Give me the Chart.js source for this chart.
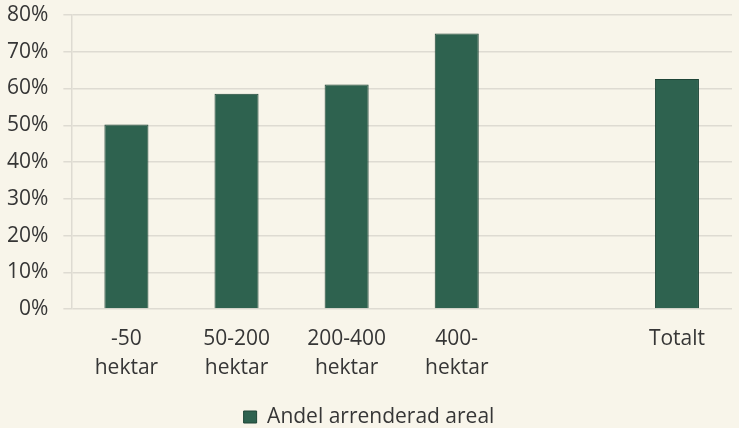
<!DOCTYPE html>
<html>
<head>
<meta charset="utf-8">
<script src="https://cdn.jsdelivr.net/npm/chart.js@4"></script>
<style>
html,body{margin:0;padding:0;background:#f8f5ea;}
#wrap{width:739px;height:428px;position:relative;}
</style>
</head>
<body>
<div id="wrap"><canvas id="c"></canvas></div>
<script>
const categories = [['-50','hektar'], ['50-200','hektar'], ['200-400','hektar'], ['400-','hektar'], '', 'Totalt'];
const seriesName = 'Andel arrenderad areal';
const values = [50.2, 58.6, 61.1, 75.0, null, 62.6];
const yTicks = [0, 10, 20, 30, 40, 50, 60, 70, 80];

Chart.defaults.font.family = '"Open Sans", "Noto Sans", sans-serif';
Chart.defaults.font.size = 21;
Chart.defaults.color = '#363636';

new Chart(document.getElementById('c'), {
  type: 'bar',
  data: {
    labels: categories,
    datasets: [{
      label: seriesName,
      data: values,
      backgroundColor: '#2e624f',
      borderColor: '#1e4537',
      borderWidth: 1,
      categoryPercentage: 1,
      barPercentage: 0.4
    }]
  },
  options: {
    responsive: true,
    maintainAspectRatio: false,
    animation: false,
    layout: { padding: { top: 15, right: 7, left: 6, bottom: -9.5 } },
    plugins: {
      legend: {
        position: 'bottom',
        labels: { boxWidth: 13, boxHeight: 12, padding: 16.5, font: { size: 21 } }
      },
      tooltip: { enabled: false }
    },
    scales: {
      x: {
        grid: { display: false },
        border: { display: false },
        ticks: { padding: 7.5, maxRotation: 0, autoSkip: false, font: { size: 21, lineHeight: 1.38 } }
      },
      y: {
        min: 0, max: 80,
        afterBuildTicks: (axis) => { axis.ticks = yTicks.map(v => ({ value: v })); },
        grid: { color: '#dedbd2', lineWidth: 1.5, tickLength: 22, tickBorderDash: [0, 14, 8, 100] },
        border: { display: true, color: '#dedbd2', width: 1.5 },
        ticks: { padding: 1, callback: v => v + '%', font: { size: 21 } }
      }
    }
  }
});
</script>
</body>
</html>
